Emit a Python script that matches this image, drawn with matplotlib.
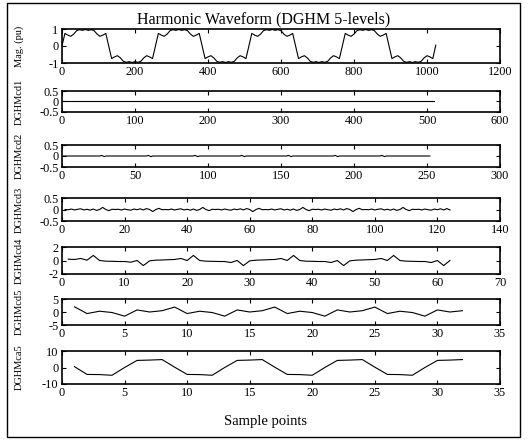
import numpy as np
import matplotlib
matplotlib.use("Agg")
import matplotlib.pyplot as plt
from matplotlib.patches import Rectangle

plt.rcParams['font.family'] = ['Liberation Serif', 'DejaVu Serif']
plt.rcParams['axes.unicode_minus'] = False

# harmonic waveform, read every 8 samples (0..1024)
wave_x = list(range(0, 1025, 8))
wave = [
    0.0, 0.74, 0.64, 0.57, 0.70, 0.90, 0.96, 0.92, 0.97, 0.92, 0.96, 0.90, 0.70, 0.57, 0.64, 0.74,
    0.0, -0.74, -0.64, -0.57, -0.70, -0.90, -0.96, -0.92, -0.97, -0.92, -0.96, -0.90, -0.70, -0.57, -0.64, -0.74,
    0.0, 0.74, 0.64, 0.57, 0.70, 0.90, 0.96, 0.92, 0.97, 0.92, 0.96, 0.90, 0.70, 0.57, 0.64, 0.74,
    0.0, -0.74, -0.64, -0.57, -0.70, -0.90, -0.96, -0.92, -0.97, -0.92, -0.96, -0.90, -0.70, -0.57, -0.64, -0.74,
    0.0, 0.74, 0.64, 0.57, 0.70, 0.90, 0.96, 0.92, 0.97, 0.92, 0.96, 0.90, 0.70, 0.57, 0.64, 0.74,
    0.0, -0.74, -0.64, -0.57, -0.70, -0.90, -0.96, -0.92, -0.97, -0.92, -0.96, -0.90, -0.70, -0.57, -0.64, -0.74,
    0.0, 0.74, 0.64, 0.57, 0.70, 0.90, 0.96, 0.92, 0.97, 0.92, 0.96, 0.90, 0.70, 0.57, 0.64, 0.74,
    0.0, -0.74, -0.64, -0.57, -0.70, -0.90, -0.96, -0.92, -0.97, -0.92, -0.96, -0.90, -0.70, -0.57, -0.64, -0.74,
    0.05,
]

# detail level 1: flat
cd1_x = [1, 510]
cd1 = [0.0, 0.0]

# detail level 2: flat with tiny blips
cd2_x = [1, 26, 27, 29, 30, 58, 59, 61, 62, 90, 91, 93, 94, 122, 123, 125, 126,
         154, 155, 157, 158, 186, 187, 189, 190, 218, 219, 221, 222, 252]
cd2 = [0.0, 0.0, 0.03, -0.03, 0.0, 0.0, 0.03, -0.03, 0.0, 0.0, 0.03, -0.03, 0.0, 0.0, 0.03, -0.03, 0.0,
       0.0, 0.03, -0.03, 0.0, 0.0, 0.03, -0.03, 0.0, 0.0, 0.03, -0.03, 0.0, 0.0]

cd3 = [
    0.0, -0.01, 0.02, -0.02, 0.01, 0.03, -0.02, 0.01, -0.03, 0.02, -0.04, 0.0, 0.09, 0.0, -0.05, 0.01,
    0.0, 0.01, -0.02, 0.02, -0.01, -0.03, 0.02, -0.01, 0.03, -0.02, 0.04, 0.0, -0.09, 0.0, 0.05, -0.01,
    0.0, -0.01, 0.02, -0.02, 0.01, 0.03, -0.02, 0.01, -0.03, 0.02, -0.04, 0.0, 0.09, 0.0, -0.05, 0.01,
    0.0, 0.01, -0.02, 0.02, -0.01, -0.03, 0.02, -0.01, 0.03, -0.02, 0.04, 0.0, -0.09, 0.0, 0.05, -0.01,
    0.0, -0.01, 0.02, -0.02, 0.01, 0.03, -0.02, 0.01, -0.03, 0.02, -0.04, 0.0, 0.09, 0.0, -0.05, 0.01,
    0.0, 0.01, -0.02, 0.02, -0.01, -0.03, 0.02, -0.01, 0.03, -0.02, 0.04, 0.0, -0.09, 0.0, 0.05, -0.01,
    0.0, -0.01, 0.02, -0.02, 0.01, 0.03, -0.02, 0.01, -0.03, 0.02, -0.04, 0.0, 0.09, 0.0, -0.05, 0.01,
    0.0, 0.01, -0.02, 0.02, -0.01, -0.03, 0.02, -0.01, 0.03, -0.02, 0.04, -0.02,
]

cd4 = [
    0.2, 0.15, 0.3, 0.05, 0.75, 0.0, -0.1, -0.12, -0.15, -0.15, -0.25, 0.0, -0.75, -0.05, 0.05, 0.08,
    0.12, 0.15, 0.3, 0.0, 0.75, 0.0, -0.1, -0.12, -0.15, -0.15, -0.3, 0.0, -0.75, -0.05, 0.05, 0.08,
    0.12, 0.15, 0.3, 0.0, 0.75, 0.0, -0.1, -0.12, -0.15, -0.15, -0.3, 0.0, -0.75, -0.05, 0.05, 0.08,
    0.12, 0.15, 0.3, 0.0, 0.75, 0.0, -0.1, -0.12, -0.15, -0.15, -0.3, 0.0, -0.75, 0.0,
]

cd5 = [2.0, -0.6, 0.3, -0.2, -1.6, 0.8, 0.0, 0.5,
       1.9, -0.6, 0.3, -0.2, -1.6, 0.8, 0.0, 0.5,
       1.9, -0.6, 0.3, -0.2, -1.6, 0.8, 0.0, 0.5,
       1.9, -0.6, 0.3, -0.2, -1.6, 0.8, 0.0, 0.5]

ca5 = [0.5, -4.2, -4.3, -4.7, 0.0, 4.3, 4.5, 4.8,
       0.2, -4.2, -4.3, -4.7, 0.0, 4.3, 4.5, 4.8,
       0.2, -4.2, -4.3, -4.7, 0.0, 4.3, 4.5, 4.8,
       0.2, -4.2, -4.3, -4.7, 0.0, 4.3, 4.5, 4.8]

ylabels = ['Mag. (pu)', 'DGHMcd1', 'DGHMcd2', 'DGHMcd3', 'DGHMcd4', 'DGHMcd5', 'DGHMca5']
xmaxes = [1200, 600, 300, 140, 70, 35, 35]
xsteps = [200, 100, 50, 20, 10, 5, 5]
ylims = [1, 0.5, 0.5, 0.5, 2, 5, 10]
yticklabels = [['-1', '0', '1'], ['-0.5', '0', '0.5'], ['-0.5', '0', '0.5'], ['-0.5', '0', '0.5'],
               ['-2', '0', '2'], ['-5', '0', '5'], ['-10', '0', '10']]

series = [
    (wave_x, wave),
    (cd1_x, cd1),
    (cd2_x, cd2),
    (list(range(1, len(cd3) + 1)), cd3),
    (list(range(1, len(cd4) + 1)), cd4),
    (list(range(1, len(cd5) + 1)), cd5),
    (list(range(1, len(ca5) + 1)), ca5),
]

W, H = 529, 440
fig = plt.figure(figsize=(W / 100, H / 100), dpi=100)

# panel top/bottom edges in pixels
edges = [(29, 63), (91, 112), (145, 167), (198, 221), (247, 274), (299, 325), (351, 384)]
left, right = 62, 500

for i in range(7):
    top, bot = edges[i]
    ax = fig.add_axes([left / W, 1 - bot / H, (right - left) / W, (bot - top) / H])
    xs, ys = series[i]
    ax.plot(xs, ys, color='black', lw=0.8)
    ax.set_xlim(0, xmaxes[i])
    ax.set_xticks(np.arange(0, xmaxes[i] + 1, xsteps[i]))
    ax.set_ylim(-ylims[i], ylims[i])
    ax.set_yticks([-ylims[i], 0, ylims[i]])
    ax.set_yticklabels(yticklabels[i])
    ax.tick_params(direction='in', top=True, right=True, length=3, width=0.8,
                   labelsize=8.8, pad=2.5)
    for s in ax.spines.values():
        s.set_linewidth(1.2)
    ax.set_ylabel(ylabels[i], fontsize=7.5)
    ax.yaxis.set_label_coords((24 - left) / (right - left), 0.5)

fig.text(264 / W, 1 - 19 / H, 'Harmonic Waveform (DGHM 5-levels)', fontsize=11.5,
         ha='center', va='center')
fig.text(266 / W, 1 - 421 / H, 'Sample points', fontsize=10.5, ha='center', va='center')

fig.add_artist(Rectangle((7 / W, 1 - 437 / H), 513 / W, 434 / H, transform=fig.transFigure,
                         fill=False, lw=1.0, color='black'))

fig.savefig('out.png', dpi=100)
